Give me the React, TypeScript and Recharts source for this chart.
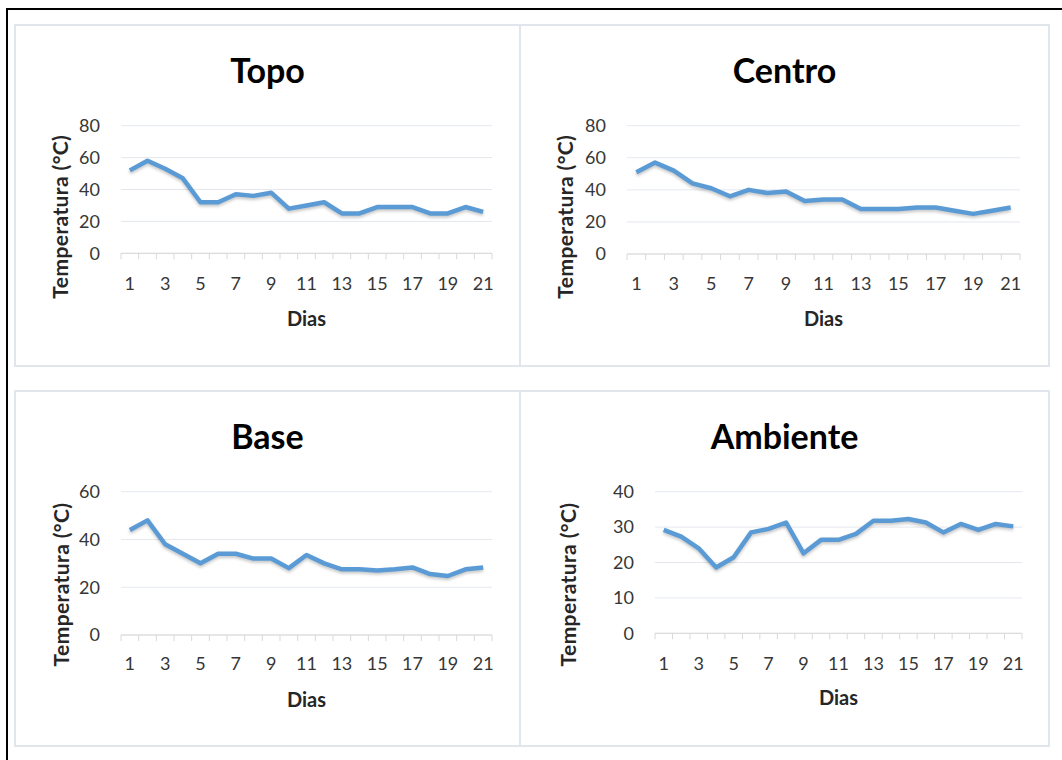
import React from 'react';
import { LineChart, Line, XAxis, YAxis, CartesianGrid } from 'recharts';

const days = [1, 2, 3, 4, 5, 6, 7, 8, 9, 10, 11, 12, 13, 14, 15, 16, 17, 18, 19, 20, 21];
const dayLabels = [1, 3, 5, 7, 9, 11, 13, 15, 17, 19, 21];

const topo = [52, 58, 53, 47, 32, 32, 37, 36, 38, 28, 30, 32, 25, 25, 29, 29, 29, 25, 25, 29, 26];
const centro = [51, 57, 52, 44, 41, 36, 40, 38, 39, 33, 34, 34, 28, 28, 28, 29, 29, 27, 25, 27, 29];
const base = [44, 48, 38, 34, 30, 34, 34, 32, 32, 28, 33.5, 30, 27.5, 27.5, 27, 27.5, 28.3, 25.5, 24.7, 27.5, 28.3];
const ambiente = [29.2, 27.3, 24, 18.6, 21.5, 28.5, 29.5, 31.3, 22.6, 26.4, 26.4, 28.1, 31.8, 31.8, 32.3, 31.3, 28.5, 30.9, 29.2, 30.9, 30.2];

const ticks80 = [0, 20, 40, 60, 80];
const ticks60 = [0, 20, 40, 60];
const ticks40 = [0, 10, 20, 30, 40];

const FONT = 'Lato, "Open Sans", sans-serif';
const LINE_COLOR = '#5B9BD5';
const AXIS_COLOR = '#d9d9d9';
const TEXT_COLOR = '#363636';

// tick marks sit between the days, labels on every other day
const tickPositions = [...days.map((d) => d - 0.5), days[days.length - 1] + 0.5, ...dayLabels].sort((a, b) => a - b);

const rows = days.map((d, i) => ({
  day: d,
  topo: topo[i],
  centro: centro[i],
  base: base[i],
  ambiente: ambiente[i],
}));

const panels = [
  { key: 'topo', title: 'Topo', yTicks: ticks80, box: [15, 25, 520, 366], plot: [121, 492, 125.7, 253.3], titleY: 83, tickY: 290, xTitleY: 326, yTitle: [60, 216.7] },
  { key: 'centro', title: 'Centro', yTicks: ticks80, box: [520, 25, 1049, 366], plot: [627, 1020, 125.7, 254], titleY: 83, tickY: 290, xTitleY: 326, yTitle: [565, 216.7] },
  { key: 'base', title: 'Base', yTicks: ticks60, box: [15, 391, 520, 746], plot: [121, 492, 491.7, 635], titleY: 449, tickY: 670, xTitleY: 707, yTitle: [60, 584.5] },
  { key: 'ambiente', title: 'Ambiente', yTicks: ticks40, box: [520, 391, 1049, 746], plot: [655, 1022, 491.7, 633.3], titleY: 449, tickY: 670, xTitleY: 705, yTitle: [567, 584.5] },
];

const Y_AXIS_W = 60;
const X_AXIS_H = 30;

const DayTick = (props: any) => {
  const { x, y, payload, labelOffset } = props;
  const v = payload.value;
  if (v % 1 !== 0) {
    return <line x1={x} x2={x} y1={y} y2={y + 6} stroke={AXIS_COLOR} strokeWidth={1} />;
  }
  if (!dayLabels.includes(v)) return null;
  return (
    <text x={x} y={y + labelOffset} textAnchor="middle" fontFamily={FONT} fontSize={18} fill={TEXT_COLOR}>
      {v}
    </text>
  );
};

const Panel = ({ p }: { p: (typeof panels)[number] }) => {
  const [bl, bt, br, bb] = p.box;
  const [x1, x2, top, bottom] = p.plot;
  const w = br - bl;
  const h = bb - bt;
  const margin = {
    top: top - bt,
    right: br - x2,
    left: x1 - bl - Y_AXIS_W,
    bottom: bb - bottom - X_AXIS_H,
  };
  const yMax = p.yTicks[p.yTicks.length - 1];
  return (
    <div style={{ position: 'absolute', left: bl, top: bt, width: w, height: h }}>
      <LineChart width={w} height={h} data={rows} margin={margin}>
        <CartesianGrid vertical={false} stroke="#e4e8ee" strokeWidth={1} />
        <XAxis
          dataKey="day"
          type="number"
          domain={[0.5, 21.5]}
          ticks={tickPositions}
          interval={0}
          height={X_AXIS_H}
          tickLine={false}
          tickSize={0}
          tickMargin={0}
          axisLine={{ stroke: AXIS_COLOR, strokeWidth: 1 }}
          tick={<DayTick labelOffset={p.tickY - bottom} />}
        />
        <YAxis
          type="number"
          domain={[0, yMax]}
          ticks={p.yTicks}
          interval={0}
          width={Y_AXIS_W}
          axisLine={false}
          tickLine={false}
          tickSize={0}
          tickMargin={21}
          tick={{ fontFamily: FONT, fontSize: 18, fill: TEXT_COLOR }}
        />
        <Line
          dataKey={p.key}
          type="linear"
          stroke={LINE_COLOR}
          strokeWidth={4.5}
          strokeLinejoin="round"
          dot={false}
          isAnimationActive={false}
        />
      </LineChart>
    </div>
  );
};

export default function App() {
  return (
    <div style={{ position: 'absolute', left: 0, top: 0, width: 1062, height: 760, background: '#fff', overflow: 'hidden' }}>
      <style>{'.recharts-line-curve{filter:drop-shadow(0px 2px 1.5px rgba(0,0,0,0.22));}'}</style>
      <svg width={1062} height={760} style={{ position: 'absolute', left: 0, top: 0 }}>
        <line x1={6} x2={1062} y1={9} y2={9} stroke="#000" strokeWidth={2} />
        <line x1={7} x2={7} y1={8} y2={760} stroke="#000" strokeWidth={2} />
        {panels.map((p) => {
          const [bl, bt, br, bb] = p.box;
          return <rect key={p.key} x={bl} y={bt} width={br - bl} height={bb - bt} fill="none" stroke="#e1e6ec" strokeWidth={2} />;
        })}
      </svg>
      {panels.map((p) => (
        <Panel key={p.key} p={p} />
      ))}
      <svg width={1062} height={760} style={{ position: 'absolute', left: 0, top: 0, pointerEvents: 'none' }}>
        {panels.map((p) => {
          const [bl, , br] = p.box;
          const [x1, x2] = p.plot;
          return (
            <g key={p.key} fontFamily={FONT} fontWeight="bold">
              <text x={(bl + br) / 2} y={p.titleY} textAnchor="middle" fontSize={34} fill="#000">
                {p.title}
              </text>
              <text x={(x1 + x2) / 2} y={p.xTitleY} textAnchor="middle" fontSize={20} fill="#262626">
                Dias
              </text>
              <text
                x={p.yTitle[0]}
                y={p.yTitle[1]}
                textAnchor="middle"
                dominantBaseline="central"
                fontSize={21}
                letterSpacing={0.4}
                fill="#262626"
                transform={`rotate(-90 ${p.yTitle[0]} ${p.yTitle[1]})`}
              >
                Temperatura (°C)
              </text>
            </g>
          );
        })}
      </svg>
    </div>
  );
}
